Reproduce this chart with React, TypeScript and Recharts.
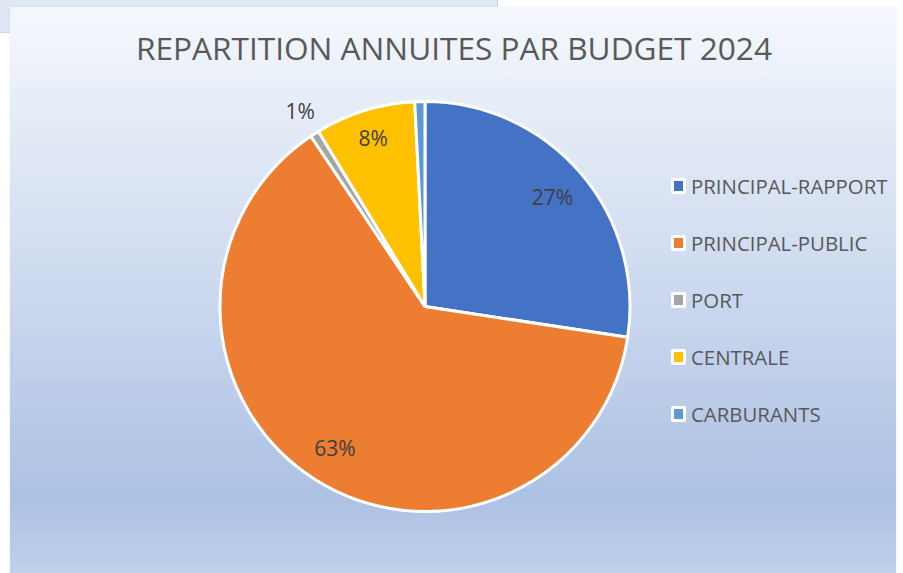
import React from "react";
import { PieChart, Pie, Cell, Legend } from "recharts";

// Budget categories and their share of the 2024 annuities
const budgets = ["PRINCIPAL-RAPPORT", "PRINCIPAL-PUBLIC", "PORT", "CENTRALE", "CARBURANTS"];
const shares = [27.4, 63.2, 0.7, 7.9, 0.8];
const sliceColors = ["#4472C4", "#ED7D31", "#A5A5A5", "#FFC000", "#5B9BD5"];

// where each percentage label sits, as a fraction of the radius (0 = hidden)
const labelRadius = [0.82, 0.82, 1.13, 0.86, 0];

const data = budgets.map((name, i) => ({ name, value: shares[i] }));

const RAD = Math.PI / 180;
const FONT = "'Open Sans', 'Noto Sans', sans-serif";

function renderLabel(props: any) {
  const { cx, cy, midAngle, outerRadius, percent, index } = props;
  const k = labelRadius[index];
  if (!k) return null;
  const r = outerRadius * k;
  const x = cx + r * Math.cos(-midAngle * RAD);
  const y = cy + r * Math.sin(-midAngle * RAD);
  return (
    <text
      x={x}
      y={y}
      textAnchor="middle"
      dominantBaseline="central"
      fill="#404040"
      fontSize={21}
      fontFamily={FONT}
    >
      {`${Math.round(percent * 100)}%`}
    </text>
  );
}

function LegendList({ payload }: any) {
  const items = [...(payload || [])].sort(
    (a: any, b: any) => budgets.indexOf(a.value) - budgets.indexOf(b.value)
  );
  return (
    <div>
      {items.map((p: any) => (
        <div
          key={p.value}
          style={{ display: "flex", alignItems: "center", height: 57 }}
        >
          <div
            style={{
              width: 9,
              height: 10,
              background: p.color,
              border: "3px solid #fff",
              borderRadius: 2,
              marginRight: 5,
            }}
          />
          <span style={{ fontFamily: FONT, fontSize: 20.4, color: "#595959" }}>
            {p.value}
          </span>
        </div>
      ))}
    </div>
  );
}

export default function App() {
  return (
    <div
      style={{
        position: "absolute",
        left: 0,
        top: 0,
        width: 903,
        height: 573,
        background: "#fff",
        overflow: "hidden",
      }}
    >
      {/* window of the sheet behind the chart */}
      <div
        style={{
          position: "absolute",
          left: 0,
          top: 0,
          width: 497,
          height: 32,
          background: "#dfe6f4",
          borderRight: "1px solid #d0d4dc",
          borderBottom: "1px solid #d0d4dc",
        }}
      />
      <div
        style={{
          position: "absolute",
          left: 10,
          top: 7,
          width: 886,
          height: 580,
          background:
            "linear-gradient(180deg, #f5f8fd 0%, #dce5f4 30%, #adc1e4 85%, #c4d4ed 100%)",
          boxShadow: "0 0 2px rgba(0,0,0,0.08)",
        }}
      >
        <svg
          width={886}
          height={70}
          style={{ position: "absolute", left: 0, top: 0 }}
        >
          <text
            x={126}
            y={53}
            textLength={636}
            lengthAdjust="spacingAndGlyphs"
            fill="#595959"
            fontSize={31}
            fontFamily={FONT}
          >
            REPARTITION ANNUITES PAR BUDGET 2024
          </text>
        </svg>
        <PieChart width={886} height={566} style={{ position: "absolute", left: 0, top: 0 }}>
          <Pie
            data={data}
            dataKey="value"
            nameKey="name"
            cx={410}
            cy={294.5}
            outerRadius={205}
            startAngle={90}
            endAngle={-270}
            stroke="#ffffff"
            strokeWidth={3}
            label={renderLabel}
            labelLine={false}
            isAnimationActive={false}
          >
            {data.map((d, i) => (
              <Cell key={d.name} fill={sliceColors[i]} />
            ))}
          </Pie>
          <Legend
            layout="vertical"
            align="right"
            verticalAlign="top"
            content={<LegendList />}
            wrapperStyle={{ left: 661, top: 150, width: 225 }}
          />
        </PieChart>
      </div>
    </div>
  );
}
